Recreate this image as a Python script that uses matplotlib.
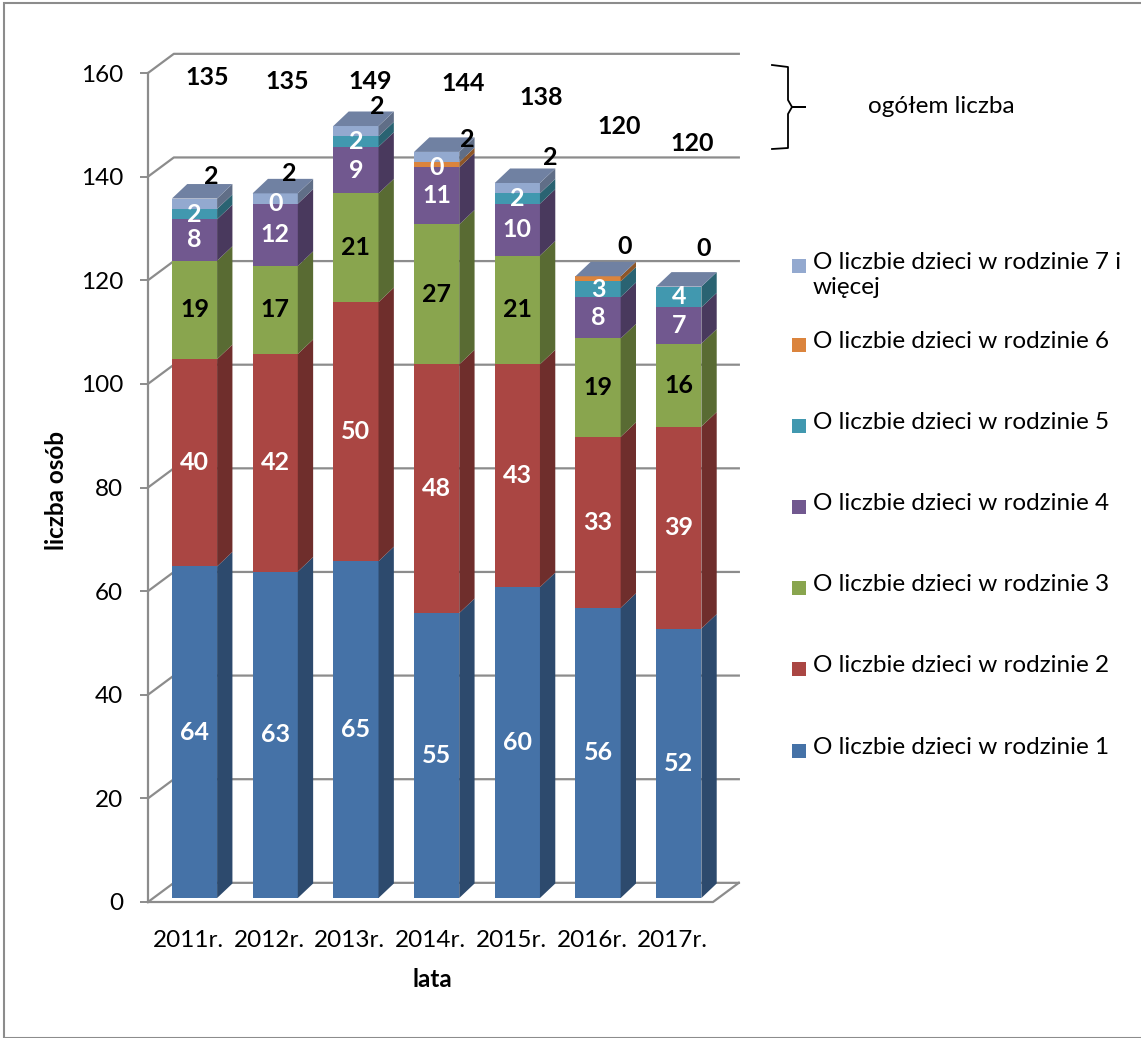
import matplotlib.pyplot as plt
from matplotlib.patches import Polygon, Rectangle
from matplotlib.lines import Line2D
from matplotlib.colors import to_rgb

plt.rcParams["font.family"] = ["Lato", "DejaVu Sans"]

years = ["2011r.", "2012r.", "2013r.", "2014r.", "2015r.", "2016r.", "2017r."]
names = [
    "O liczbie dzieci w rodzinie 1",
    "O liczbie dzieci w rodzinie 2",
    "O liczbie dzieci w rodzinie 3",
    "O liczbie dzieci w rodzinie 4",
    "O liczbie dzieci w rodzinie 5",
    "O liczbie dzieci w rodzinie 6",
    "O liczbie dzieci w rodzinie 7 i\nwięcej",
]
kids_1 = [64, 63, 65, 55, 60, 56, 52]
kids_2 = [40, 42, 50, 48, 43, 33, 39]
kids_3 = [19, 17, 21, 27, 21, 19, 16]
kids_4 = [8, 12, 9, 11, 10, 8, 7]
kids_5 = [2, 0, 2, 0, 2, 3, 4]
kids_6 = [0, 0, 0, 1, 0, 1, 0]
kids_7 = [2, 2, 2, 2, 2, 0, 0]
totals = [135, 135, 149, 144, 138, 120, 120]

# layout only (where the Excel labels ended up)
total_pos = [(0.23, 159.1), (1.22, 158.3), (2.25, 158.3), (3.40, 157.9),
             (4.37, 155.2), (5.34, 149.6), (6.24, 146.3)]
top_lbl_dx = [0.28, 0.25, 0.34, 0.46, 0.48, 0.41, 0.38]
top_lbl_dy = [4.2, 3.9, 3.7, 2.3, 5.0, 5.7, 7.4]

series = [kids_1, kids_2, kids_3, kids_4, kids_5, kids_6, kids_7]
colors = ["#4572A7", "#AA4643", "#89A54E", "#71588F", "#4198AF", "#DB843D", "#93A9CF"]
label_colors = ["white", "white", "black", "white", "white", None, None]
top_color = "#7081A2"
grid_color = "#8C8C8C"
FS = 17.5
FS_LBL = 18

W, H = 1141, 1038
fig = plt.figure(figsize=(W / 100, H / 100), dpi=100)
ax = fig.add_axes([148 / W, 1 - 902 / H, (713 - 148) / W, (902 - 73) / H])
ax.set_xlim(-0.5, 6.5)
ax.set_ylim(0, 160)
for s in ax.spines.values():
    s.set_visible(False)


def fx(px):
    return px / W


def fy(py):
    return 1 - py / H


# walls / grid
wall_dx, wall_dy = 0.32, 3.7
for g in range(0, 161, 20):
    ax.plot([-0.5, -0.5 + wall_dx, 6.5 + wall_dx], [g, g + wall_dy, g + wall_dy],
            color=grid_color, lw=1.6, clip_on=False, zorder=0)
ax.plot([-0.5, -0.5], [0, 160], color=grid_color, lw=1.6, clip_on=False, zorder=0)
ax.plot([-0.5, 6.5, 6.5 + wall_dx], [0, 0, wall_dy], color=grid_color, lw=1.6,
        clip_on=False, zorder=0)

ax.set_yticks(range(0, 161, 20))
ax.tick_params(axis="y", length=6, width=1.4, color=grid_color, pad=12, labelsize=FS)
ax.set_xticks(range(len(years)))
ax.set_xticklabels(years)
ax.tick_params(axis="x", length=0, pad=20, labelsize=FS)

# 3D-ish stacked bars
base = 0.77
shift = 0.076
width = 0.56
dx, dy = 0.19, 2.8


def darker(c, f=0.65):
    r, g, b = to_rgb(c)
    return (r * f, g * f, b * f)


bottoms = [base] * len(years)
for k, vals in enumerate(series):
    xs = [i + shift for i in range(len(years))]
    ax.bar(xs, vals, width=width, bottom=bottoms, color=colors[k], zorder=2)
    for i, v in enumerate(vals):
        xr = xs[i] + width / 2
        b = bottoms[i]
        side = Polygon([(xr, b), (xr + dx, b + dy), (xr + dx, b + v + dy), (xr, b + v)],
                       closed=True, facecolor=darker(colors[k]), edgecolor="none",
                       zorder=2, clip_on=False)
        ax.add_patch(side)
        if label_colors[k] is not None:
            ax.text(xs[i], b + v / 2, str(v), ha="center", va="center", fontsize=FS_LBL,
                    fontweight="bold", color=label_colors[k], zorder=5)
    bottoms = [bottoms[i] + vals[i] for i in range(len(years))]

for i, top in enumerate(bottoms):
    xl = i + shift - width / 2
    xr = i + shift + width / 2
    cap = Polygon([(xl, top), (xr, top), (xr + dx, top + dy), (xl + dx, top + dy)],
                  closed=True, facecolor=top_color, edgecolor="none", zorder=3,
                  clip_on=False)
    ax.add_patch(cap)
    ax.text(i + top_lbl_dx[i], top + top_lbl_dy[i], str(kids_7[i]), ha="center",
            va="center", fontsize=FS_LBL, fontweight="bold", color="black", zorder=5)

for i, t in enumerate(totals):
    ax.text(total_pos[i][0], total_pos[i][1], str(t), ha="center", va="center",
            fontsize=FS_LBL, fontweight="bold", color="black", zorder=5)

ax.set_ylabel("liczba osób", fontsize=FS, fontweight="bold")
ax.yaxis.set_label_coords((68 - 148) / 565, (902 - 490) / 829)
ax.set_xlabel("lata", fontsize=FS, fontweight="bold")
ax.xaxis.set_label_coords((432 - 148) / 565, (902 - 968) / 829)

# legend
leg_y = [751, 669, 588, 507, 426, 345, 266]
for k in range(len(series)):
    fig.patches.append(Rectangle((fx(792), fy(leg_y[k] + 7)), 14 / W, 14 / H,
                                 transform=fig.transFigure, facecolor=colors[k],
                                 edgecolor="none"))
    fig.text(fx(813), fy(leg_y[k] - 14), names[k], ha="left", va="top", fontsize=FS,
             linespacing=1.25)

# bracket + note
bx = [772, 788, 788, 792, 805, 792, 788, 788, 772]
by = [65, 67, 100, 107, 107, 107, 114, 148, 149]
fig.lines.append(Line2D([fx(x) for x in bx], [fy(y) for y in by],
                        transform=fig.transFigure, color="black", lw=1.3))
fig.text(fx(868), fy(107), "ogółem liczba", ha="left", va="center", fontsize=FS)

# chart frame
fig.patches.append(Rectangle((fx(4), 0), 1.0, fy(3), transform=fig.transFigure,
                             facecolor="none", edgecolor="#8C8C8C", lw=1.5))

fig.savefig("out.png", dpi=100)
